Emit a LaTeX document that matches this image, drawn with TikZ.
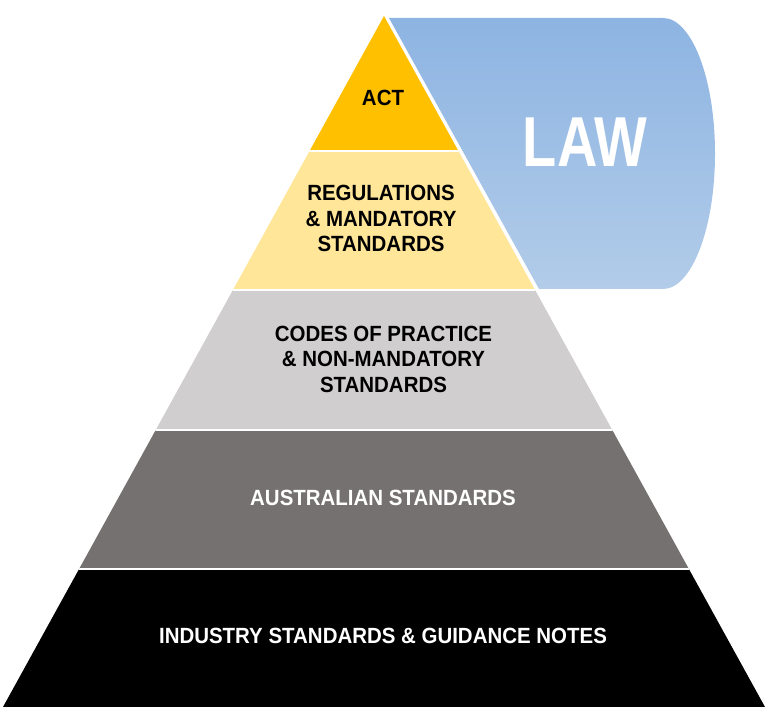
\documentclass[tikz,border=0pt]{standalone}
\usepackage{fontspec}
\setmainfont{Liberation Sans}
\definecolor{actc}{HTML}{FFC000}
\definecolor{regc}{HTML}{FFE699}
\definecolor{codec}{HTML}{D0CECE}
\definecolor{ausc}{HTML}{767171}
\definecolor{indc}{HTML}{000000}
\definecolor{lawtop}{HTML}{8DB4E2}
\definecolor{lawbot}{HTML}{B2CCE9}
\tikzset{
  lbl/.style={align=center, inner sep=0pt, xscale=0.93, font=\fontsize{22}{25.5}\selectfont\bfseries},
  gap/.style={white, line width=2pt}
}
\begin{document}
\begin{tikzpicture}[x=1pt,y=1pt]
\useasboundingbox (0,0) rectangle (768,727);
% LAW banner
\shade[top color=lawtop, bottom color=lawbot]
  (389,709) -- (663,709) arc[start angle=90, end angle=-90, x radius=52pt, y radius=135.5pt]
  -- (539,438) -- cycle;
% pyramid layers
\begin{scope}
  \clip (3,20) -- (384,711) -- (765,20) -- cycle;
  \fill[actc] (0,576) rectangle (768,712);
  \fill[regc] (0,437) rectangle (768,576);
  \fill[codec] (0,297) rectangle (768,437);
  \fill[ausc] (0,158) rectangle (768,297);
  \fill[indc] (0,20) rectangle (768,158);
  \draw[gap] (0,576) -- (768,576);
  \draw[gap] (0,437) -- (768,437);
  \draw[gap] (0,297) -- (768,297);
  \draw[gap] (0,158) -- (768,158);
\end{scope}
% labels
\node[lbl] (act) at (383,629) {ACT};
\node[lbl] (reg) at (381,508.5) {REGULATIONS\\\& MANDATORY\\STANDARDS};
\node[lbl] (codes) at (383.5,368) {CODES OF PRACTICE\\\& NON-MANDATORY\\STANDARDS};
\node[lbl, text=white] (aus) at (383,229.5) {AUSTRALIAN STANDARDS};
\node[lbl, text=white] (ind) at (383,91) {INDUSTRY STANDARDS \& GUIDANCE NOTES};
\node[inner sep=0pt, text=white] (law) at (585,585)
  {\scalebox{0.79}[1]{\fontsize{70.7}{80}\selectfont\bfseries LAW}};
\end{tikzpicture}
\end{document}
